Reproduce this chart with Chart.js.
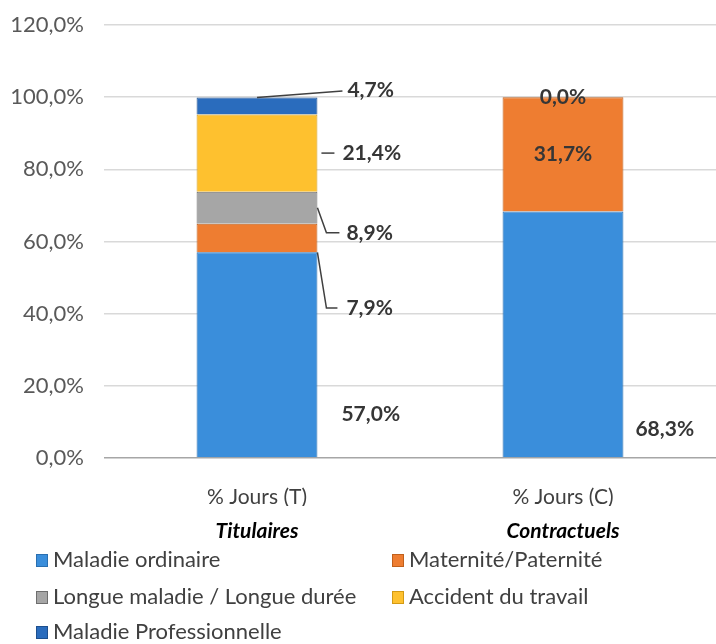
<!DOCTYPE html>
<html>
<head>
<meta charset="utf-8">
<script src="https://cdn.jsdelivr.net/npm/chart.js@4.4.1/dist/chart.umd.min.js"></script>
<style>
  body { margin: 0; background: #fff; }
  #wrap { width: 716px; height: 644px; }
</style>
</head>
<body>
<div id="wrap"><canvas id="absChart"></canvas></div>
<script>
// DATA
const categories = ['% Jours (T)', '% Jours (C)'];
const groups = ['Titulaires', 'Contractuels'];
const seriesNames = ['Maladie ordinaire', 'Maternité/Paternité', 'Longue maladie / Longue durée', 'Accident du travail', 'Maladie Professionnelle'];
const maladieOrdinaire = [57.0, 68.3];
const maternite = [7.9, 31.7];
const longueMaladie = [8.9, null];
const accidentTravail = [21.4, 0.0];
const maladiePro = [4.7, null];
const yMax = 120;
const yStep = 20;

const colors = ['#3a8edb', '#ee7d31', '#a6a6a6', '#fec12f', '#2a6cbd'];
const borders = ['#2a6fb0', '#c0601c', '#6e6e6e', '#d39a14', '#1d4f8e'];
const fontFam = 'Lato, "Open Sans", sans-serif';

// where each value label goes (style only): per dataset, per bar
// c = centered in segment, r = right of bar with dx/dy from segment middle
const labelLayout = [
  [{ m: 'r', dx: 24, dy: 59 }, { m: 'r', dx: 12, dy: 95 }],
  [{ m: 'r', dx: 29, dy: 70, lead: 'down' }, { m: 'c' }],
  [{ m: 'r', dx: 29, dy: 25, lead: 'mid' }, null],
  [{ m: 'r', dx: 25, dy: 0, lead: 'dash' }, { m: 'c' }],
  [{ m: 'r', dx: 30, dy: -16, lead: 'top' }, null]
];

function fmt(v) {
  return v.toFixed(1).replace('.', ',') + '%';
}

const valueLabels = {
  id: 'valueLabels',
  afterDatasetsDraw(chart) {
    const ctx = chart.ctx;
    ctx.save();
    ctx.font = 'bold 21px ' + fontFam;
    ctx.fillStyle = '#363636';
    ctx.strokeStyle = '#404040';
    ctx.lineWidth = 1.5;
    ctx.textBaseline = 'middle';
    chart.data.datasets.forEach((ds, i) => {
      const meta = chart.getDatasetMeta(i);
      ds.data.forEach((v, j) => {
        const lay = labelLayout[i][j];
        if (v === null || !lay) return;
        const bar = meta.data[j];
        const half = bar.width / 2;
        const right = bar.x + half;
        const midY = (bar.y + bar.base) / 2;
        const txt = fmt(v);
        if (lay.m === 'c') {
          ctx.textAlign = 'center';
          ctx.fillText(txt, bar.x, midY);
          return;
        }
        const ly = midY + lay.dy;
        const lx = right + lay.dx;
        ctx.beginPath();
        if (lay.lead === 'dash') {
          ctx.moveTo(right + 4, ly); ctx.lineTo(right + 17, ly);
        } else if (lay.lead === 'mid') {
          ctx.moveTo(right, midY); ctx.lineTo(right + 9, ly); ctx.lineTo(right + 22, ly);
        } else if (lay.lead === 'down') {
          ctx.moveTo(right, bar.base); ctx.lineTo(right + 9, ly); ctx.lineTo(right + 20, ly);
        } else if (lay.lead === 'top') {
          ctx.moveTo(bar.x, bar.y); ctx.lineTo(right + 25, ly + 1);
        }
        ctx.stroke();
        ctx.textAlign = 'left';
        ctx.fillText(txt, lx, ly);
      });
    });
    ctx.restore();
  }
};

// legend in two columns under the axis titles
const gridLegend = {
  id: 'gridLegend',
  afterDraw(chart) {
    const ctx = chart.ctx;
    const top = chart.scales.x2.bottom;
    const colX = [36, 392];
    const rowY = [18, 55, 90];
    ctx.save();
    ctx.font = '22px ' + fontFam;
    ctx.textBaseline = 'middle';
    ctx.textAlign = 'left';
    chart.data.datasets.forEach((ds, i) => {
      const x = colX[i % 2];
      const y = top + rowY[Math.floor(i / 2)];
      ctx.fillStyle = ds.backgroundColor;
      ctx.fillRect(x, y - 6, 12, 13);
      ctx.strokeStyle = ds.borderColor;
      ctx.lineWidth = 1;
      ctx.strokeRect(x + 0.5, y - 5.5, 11, 12);
      ctx.fillStyle = '#404040';
      ctx.fillText(ds.label, x + 17, y);
    });
    ctx.restore();
  }
};

const seriesValues = [maladieOrdinaire, maternite, longueMaladie, accidentTravail, maladiePro];

const datasets = seriesNames.map((name, i) => ({
  label: name,
  data: seriesValues[i],
  backgroundColor: colors[i],
  borderColor: borders[i],
  borderWidth: 1,
  barPercentage: 0.395,
  categoryPercentage: 1
}));

new Chart(document.getElementById('absChart'), {
  type: 'bar',
  data: { labels: categories, datasets: datasets },
  options: {
    responsive: true,
    maintainAspectRatio: false,
    animation: false,
    layout: { padding: { top: 25, right: 0, bottom: 102, left: 0 } },
    plugins: { legend: { display: false }, tooltip: { enabled: false } },
    scales: {
      x: {
        stacked: true,
        grid: { display: false },
        border: { display: false },
        ticks: { color: '#404040', font: { family: fontFam, size: 21 }, padding: 19 },
        afterFit(s) { s.height = 48; }
      },
      x2: {
        type: 'category',
        labels: groups,
        position: 'bottom',
        grid: { display: false },
        border: { display: false },
        ticks: { color: '#000', font: { family: fontFam, size: 21, weight: 'bold', style: 'italic' }, padding: 5 },
        afterFit(s) { s.height = 36; }
      },
      y: {
        stacked: true,
        min: 0,
        max: yMax,
        ticks: { stepSize: yStep, color: '#595959', padding: 20, font: { family: fontFam, size: 22 }, callback: v => fmt(v) },
        grid: { color: ctx => ctx.tick.value === 0 ? '#a6a6a6' : '#d9d9d9', lineWidth: 1.5, drawTicks: false },
        border: { display: false },
        afterFit(s) { s.width = 104; s.paddingTop = 12; }
      }
    }
  },
  plugins: [valueLabels, gridLegend]
});
</script>
</body>
</html>
